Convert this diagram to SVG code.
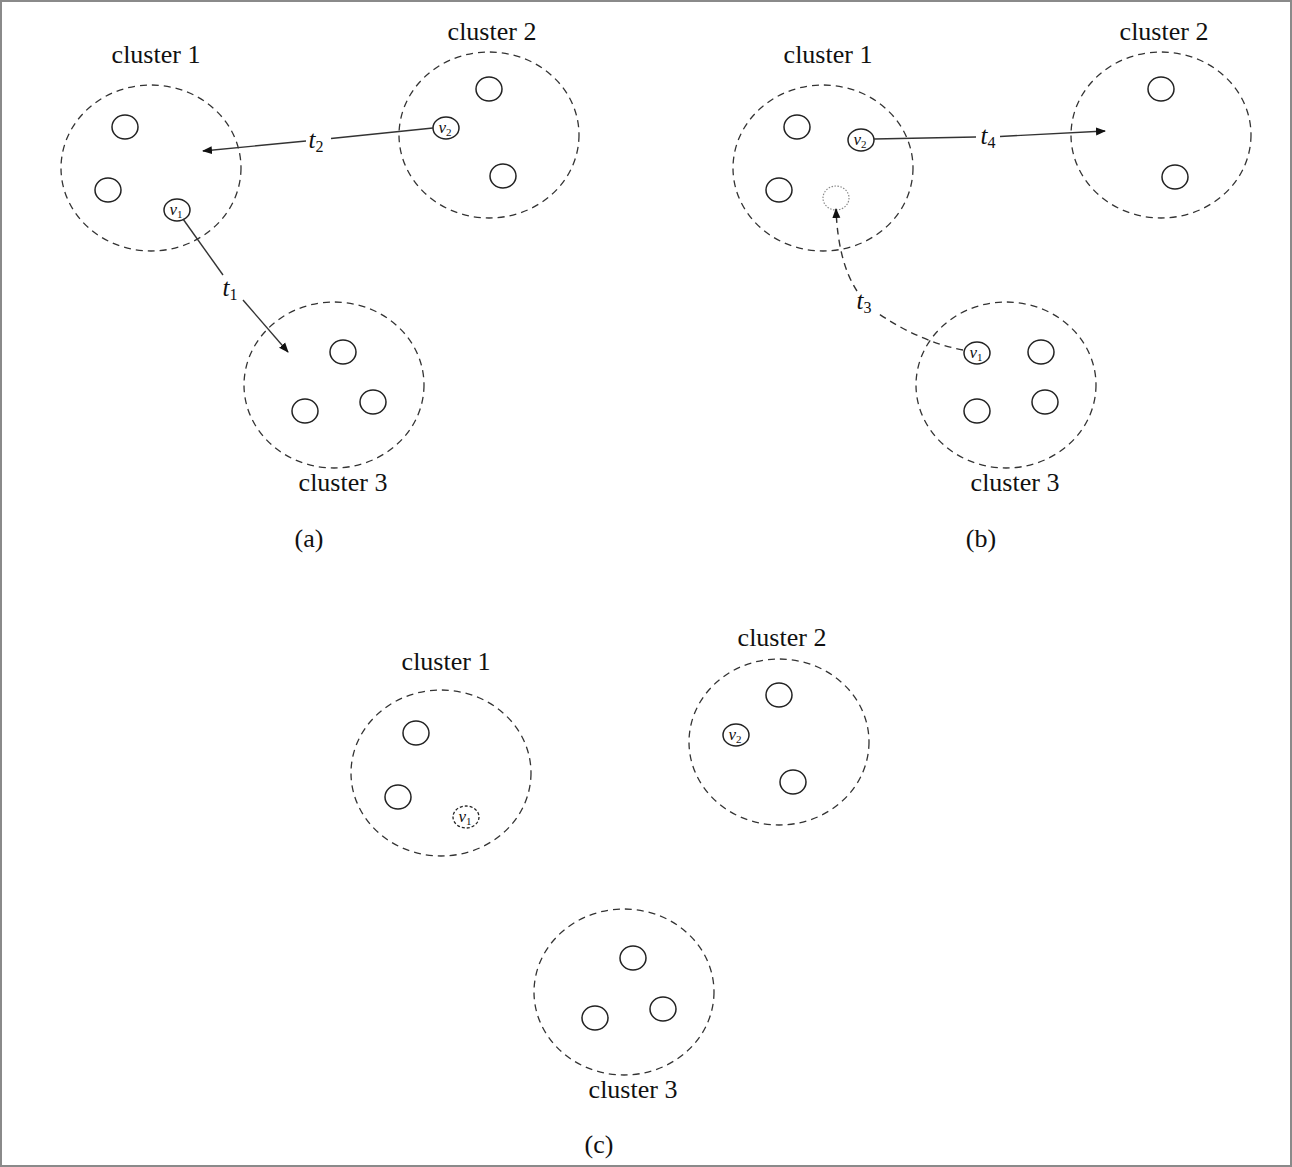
<svg xmlns="http://www.w3.org/2000/svg" width="1292" height="1167" viewBox="0 0 1292 1167">
<defs>
<style>
.cl{fill:none;stroke:#333;stroke-width:1.3;stroke-dasharray:7,5}
.nd{fill:#fff;stroke:#222;stroke-width:1.5}
.lb{font-family:"Liberation Serif",serif;font-size:26px;fill:#111;text-anchor:middle}
.vl{font-family:"Liberation Serif",serif;font-size:17px;font-style:italic;fill:#111;text-anchor:middle}
.sb{font-size:11px;font-style:normal}
.tl{font-family:"Liberation Serif",serif;font-size:25px;font-style:italic;fill:#111;text-anchor:middle}
.ts{font-size:16px;font-style:normal}
.ed{fill:none;stroke:#333;stroke-width:1.4}
</style>
<marker id="ah" viewBox="0 0 10 10" refX="9" refY="5" markerWidth="10" markerHeight="10" orient="auto" markerUnits="userSpaceOnUse">
<path d="M0,1 L10,5 L0,9 z" fill="#111"/>
</marker>
</defs>
<rect x="1" y="1" width="1290" height="1165" fill="#fff" stroke="#8a8a8a" stroke-width="2"/>

<!-- Panel (a) -->
<g id="a-cluster1">
<ellipse class="cl" cx="151" cy="168" rx="90" ry="83"/>
<text class="lb" x="156" y="63">cluster 1</text>
<ellipse class="nd" cx="125" cy="127" rx="13" ry="12"/>
<ellipse class="nd" cx="108" cy="190" rx="13" ry="12"/>
</g>
<g id="a-v1">
<ellipse class="nd" cx="177" cy="210" rx="13" ry="11"/>
<text class="vl" x="176" y="215">v<tspan class="sb" dy="3">1</tspan></text>
</g>
<g id="a-cluster2">
<ellipse class="cl" cx="489" cy="135" rx="90" ry="83"/>
<text class="lb" x="492" y="40">cluster 2</text>
<ellipse class="nd" cx="489" cy="89" rx="13" ry="12"/>
<ellipse class="nd" cx="503" cy="176" rx="13" ry="12"/>
</g>
<g id="a-v2">
<ellipse class="nd" cx="446" cy="128" rx="13" ry="11"/>
<text class="vl" x="445" y="133">v<tspan class="sb" dy="3">2</tspan></text>
</g>
<g id="a-cluster3">
<ellipse class="cl" cx="334" cy="385" rx="90" ry="83"/>
<text class="lb" x="343" y="491">cluster 3</text>
<ellipse class="nd" cx="343" cy="352" rx="13" ry="12"/>
<ellipse class="nd" cx="305" cy="411" rx="13" ry="12"/>
<ellipse class="nd" cx="373" cy="402" rx="13" ry="12"/>
</g>
<text class="lb" x="309" y="547">(a)</text>

<!-- Panel (b) -->
<g id="b-cluster1">
<ellipse class="cl" cx="823" cy="168" rx="90" ry="83"/>
<text class="lb" x="828" y="63">cluster 1</text>
<ellipse class="nd" cx="797" cy="127" rx="13" ry="12"/>
<ellipse class="nd" cx="779" cy="190" rx="13" ry="12"/>
<ellipse cx="836" cy="198" rx="13" ry="12" fill="none" stroke="#888" stroke-width="1.2" stroke-dasharray="1.5,1.5"/>
</g>
<g id="b-v2">
<ellipse class="nd" cx="861" cy="140" rx="13" ry="11"/>
<text class="vl" x="860" y="145">v<tspan class="sb" dy="3">2</tspan></text>
</g>
<g id="b-cluster2">
<ellipse class="cl" cx="1161" cy="135" rx="90" ry="83"/>
<text class="lb" x="1164" y="40">cluster 2</text>
<ellipse class="nd" cx="1161" cy="89" rx="13" ry="12"/>
<ellipse class="nd" cx="1175" cy="177" rx="13" ry="12"/>
</g>
<g id="b-cluster3">
<ellipse class="cl" cx="1006" cy="385" rx="90" ry="83"/>
<text class="lb" x="1015" y="491">cluster 3</text>
<ellipse class="nd" cx="1041" cy="352" rx="13" ry="12"/>
<ellipse class="nd" cx="977" cy="411" rx="13" ry="12"/>
<ellipse class="nd" cx="1045" cy="402" rx="13" ry="12"/>
</g>
<g id="b-v1">
<ellipse class="nd" cx="977" cy="353" rx="13" ry="11"/>
<text class="vl" x="976" y="358">v<tspan class="sb" dy="3">1</tspan></text>
</g>
<text class="lb" x="981" y="547">(b)</text>

<!-- Panel (c) -->
<g id="c-cluster1">
<ellipse class="cl" cx="441" cy="773" rx="90" ry="83"/>
<text class="lb" x="446" y="670">cluster 1</text>
<ellipse class="nd" cx="416" cy="733" rx="13" ry="12"/>
<ellipse class="nd" cx="398" cy="797" rx="13" ry="12"/>
</g>
<g id="c-v1">
<ellipse cx="466" cy="817" rx="13" ry="11" fill="#fff" stroke="#222" stroke-width="1.3" stroke-dasharray="3,2"/>
<text class="vl" x="465" y="822">v<tspan class="sb" dy="3">1</tspan></text>
</g>
<g id="c-cluster2">
<ellipse class="cl" cx="779" cy="742" rx="90" ry="83"/>
<text class="lb" x="782" y="646">cluster 2</text>
<ellipse class="nd" cx="779" cy="695" rx="13" ry="12"/>
<ellipse class="nd" cx="793" cy="782" rx="13" ry="12"/>
</g>
<g id="c-v2">
<ellipse class="nd" cx="736" cy="735" rx="13" ry="11"/>
<text class="vl" x="735" y="740">v<tspan class="sb" dy="3">2</tspan></text>
</g>
<g id="c-cluster3">
<ellipse class="cl" cx="624" cy="992" rx="90" ry="83"/>
<text class="lb" x="633" y="1098">cluster 3</text>
<ellipse class="nd" cx="633" cy="958" rx="13" ry="12"/>
<ellipse class="nd" cx="595" cy="1018" rx="13" ry="12"/>
<ellipse class="nd" cx="663" cy="1009" rx="13" ry="12"/>
</g>
<text class="lb" x="599" y="1153">(c)</text>

<!-- Connectors -->
<g id="connectors">
<path class="ed" d="M433,128 L331,138.5"/>
<path class="ed" d="M306,141 L203,151" marker-end="url(#ah)"/>
<path class="ed" d="M183,219 L223,275"/>
<path class="ed" d="M243,300 L288,352" marker-end="url(#ah)"/>
<path class="ed" d="M874,139 L976,137"/>
<path class="ed" d="M1000,136.5 L1105,131" marker-end="url(#ah)"/>
<path class="ed" d="M963,350 Q920,342 876,312" stroke-dasharray="7,5"/>
<path class="ed" d="M857,291 Q838,262 836,209" stroke-dasharray="7,5" marker-end="url(#ah)"/>
</g>
<g id="edge-labels">
<text class="tl" x="316" y="148">t<tspan class="ts" dy="4">2</tspan></text>
<text class="tl" x="230" y="296">t<tspan class="ts" dy="4">1</tspan></text>
<text class="tl" x="988" y="144">t<tspan class="ts" dy="4">4</tspan></text>
<text class="tl" x="864" y="309">t<tspan class="ts" dy="4">3</tspan></text>
</g>
</svg>
